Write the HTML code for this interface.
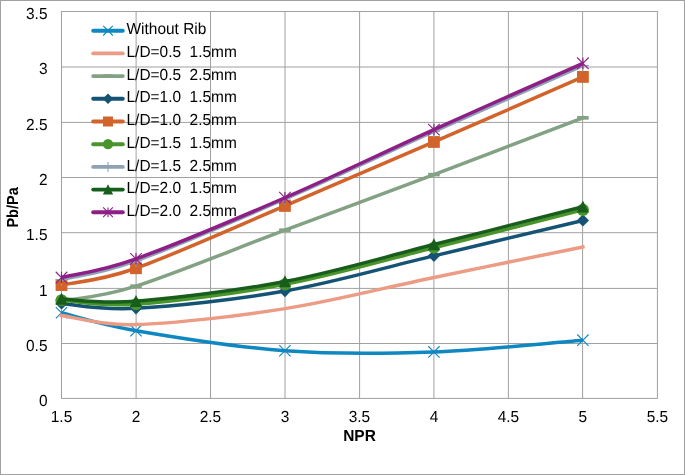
<!DOCTYPE html>
<html><head><meta charset="utf-8"><style>
html,body{margin:0;padding:0;background:#fff;}
body{width:685px;height:475px;overflow:hidden;}
svg{display:block;will-change:transform;}
text{font-family:"Liberation Sans",sans-serif;text-rendering:geometricPrecision;}
</style></head><body>
<svg width="685" height="475" viewBox="0 0 685 475">
<rect x="0" y="0" width="685" height="475" fill="#fff"/>
<rect x="0.5" y="0.5" width="684" height="474" fill="none" stroke="#A0A0A0" stroke-width="1"/>

<line x1="61.5" x2="657.4" y1="343.50" y2="343.50" stroke="#A0A0A0" stroke-width="1"/>
<line x1="61.5" x2="657.4" y1="288.40" y2="288.40" stroke="#A0A0A0" stroke-width="1"/>
<line x1="61.5" x2="657.4" y1="232.70" y2="232.70" stroke="#A0A0A0" stroke-width="1"/>
<line x1="61.5" x2="657.4" y1="177.50" y2="177.50" stroke="#A0A0A0" stroke-width="1"/>
<line x1="61.5" x2="657.4" y1="122.40" y2="122.40" stroke="#A0A0A0" stroke-width="1"/>
<line x1="61.5" x2="657.4" y1="67.00" y2="67.00" stroke="#A0A0A0" stroke-width="1"/>
<line x1="136.10" x2="136.10" y1="11.5" y2="398.4" stroke="#A0A0A0" stroke-width="1"/>
<line x1="210.50" x2="210.50" y1="11.5" y2="398.4" stroke="#A0A0A0" stroke-width="1"/>
<line x1="285.00" x2="285.00" y1="11.5" y2="398.4" stroke="#A0A0A0" stroke-width="1"/>
<line x1="359.60" x2="359.60" y1="11.5" y2="398.4" stroke="#A0A0A0" stroke-width="1"/>
<line x1="433.90" x2="433.90" y1="11.5" y2="398.4" stroke="#A0A0A0" stroke-width="1"/>
<line x1="508.40" x2="508.40" y1="11.5" y2="398.4" stroke="#A0A0A0" stroke-width="1"/>
<line x1="582.60" x2="582.60" y1="11.5" y2="398.4" stroke="#A0A0A0" stroke-width="1"/>
<rect x="61.5" y="11.5" width="595.90" height="386.90" fill="none" stroke="#A0A0A0" stroke-width="1"/>
<text transform="translate(47.5,406.3) scale(0.965,1)" font-size="16" text-anchor="end" fill="#000">0</text>
<text transform="translate(47.5,351.3) scale(0.965,1)" font-size="16" text-anchor="end" fill="#000">0.5</text>
<text transform="translate(47.5,296.3) scale(0.965,1)" font-size="16" text-anchor="end" fill="#000">1</text>
<text transform="translate(47.5,240.3) scale(0.965,1)" font-size="16" text-anchor="end" fill="#000">1.5</text>
<text transform="translate(47.5,185.3) scale(0.965,1)" font-size="16" text-anchor="end" fill="#000">2</text>
<text transform="translate(47.5,130.3) scale(0.965,1)" font-size="16" text-anchor="end" fill="#000">2.5</text>
<text transform="translate(47.5,74.3) scale(0.965,1)" font-size="16" text-anchor="end" fill="#000">3</text>
<text transform="translate(47.5,19.3) scale(0.965,1)" font-size="16" text-anchor="end" fill="#000">3.5</text>
<text transform="translate(61.50,422.3) scale(0.965,1)" font-size="16" text-anchor="middle" fill="#000">1.5</text>
<text transform="translate(135.99,422.3) scale(0.965,1)" font-size="16" text-anchor="middle" fill="#000">2</text>
<text transform="translate(210.47,422.3) scale(0.965,1)" font-size="16" text-anchor="middle" fill="#000">2.5</text>
<text transform="translate(284.95,422.3) scale(0.965,1)" font-size="16" text-anchor="middle" fill="#000">3</text>
<text transform="translate(359.44,422.3) scale(0.965,1)" font-size="16" text-anchor="middle" fill="#000">3.5</text>
<text transform="translate(433.93,422.3) scale(0.965,1)" font-size="16" text-anchor="middle" fill="#000">4</text>
<text transform="translate(508.41,422.3) scale(0.965,1)" font-size="16" text-anchor="middle" fill="#000">4.5</text>
<text transform="translate(582.89,422.3) scale(0.965,1)" font-size="16" text-anchor="middle" fill="#000">5</text>
<text transform="translate(657.38,422.3) scale(0.965,1)" font-size="16" text-anchor="middle" fill="#000">5.5</text>
<text transform="translate(359.5,440.8) scale(0.965,1)" font-size="16" font-weight="bold" text-anchor="middle" fill="#000">NPR</text>
<text transform="translate(17.9,207.4) rotate(-90) scale(0.906,1)" x="0" y="0" font-size="16" font-weight="bold" text-anchor="middle" fill="#000">Pb/Pa</text>
<path d="M61.50,312.73 C73.91,315.72 98.74,324.33 135.99,330.66 C173.23,336.99 235.30,347.15 284.95,350.69 C334.61,354.23 384.27,353.66 433.93,351.91 C483.58,350.16 558.07,342.13 582.89,340.18" stroke="#0F87C1" stroke-width="3.5" fill="none" stroke-linecap="butt" stroke-linejoin="round"/>
<path d="M55.84,307.07L67.16,318.39M55.84,318.39L67.16,307.07" stroke="#0F87C1" stroke-width="1.1" fill="none"/>
<path d="M130.32,325.00L141.65,336.32M130.32,336.32L141.65,325.00" stroke="#0F87C1" stroke-width="1.1" fill="none"/>
<path d="M279.29,345.03L290.62,356.35M279.29,356.35L290.62,345.03" stroke="#0F87C1" stroke-width="1.1" fill="none"/>
<path d="M428.26,346.24L439.59,357.57M428.26,357.57L439.59,346.24" stroke="#0F87C1" stroke-width="1.1" fill="none"/>
<path d="M577.23,334.51L588.56,345.84M577.23,345.84L588.56,334.51" stroke="#0F87C1" stroke-width="1.1" fill="none"/>
<path d="M61.50,315.50 C73.91,317.01 98.74,325.72 135.99,324.57 C173.23,323.43 235.30,316.49 284.95,308.64 C334.61,300.78 384.27,287.70 433.93,277.43 C483.58,267.15 558.07,252.07 582.89,246.99" stroke="#EC9B84" stroke-width="3.5" fill="none" stroke-linecap="square" stroke-linejoin="round"/>
<path d="M61.50,301.11 C73.91,298.62 98.74,297.99 135.99,286.17 C173.23,274.35 235.30,248.76 284.95,230.17 C334.61,211.58 384.27,193.34 433.93,174.61 C483.58,155.89 558.07,127.30 582.89,117.84" stroke="#82A283" stroke-width="3.5" fill="none" stroke-linecap="square" stroke-linejoin="round"/>
<rect x="55.72" y="299.31" width="11.56" height="3.60" fill="#82A283"/>
<rect x="130.20" y="284.37" width="11.56" height="3.60" fill="#82A283"/>
<rect x="279.17" y="228.37" width="11.56" height="3.60" fill="#82A283"/>
<rect x="428.14" y="172.81" width="11.56" height="3.60" fill="#82A283"/>
<rect x="577.11" y="116.04" width="11.56" height="3.60" fill="#82A283"/>
<path d="M61.50,303.43 C73.91,304.25 98.74,310.37 135.99,308.30 C173.23,306.24 235.30,299.78 284.95,291.04 C334.61,282.30 384.27,267.61 433.93,255.85 C483.58,244.08 558.07,226.33 582.89,220.43" stroke="#155375" stroke-width="3.5" fill="none" stroke-linecap="butt" stroke-linejoin="round"/>
<path d="M61.50,297.30L67.64,303.43L61.50,309.57L55.36,303.43Z" fill="#155375"/>
<path d="M135.99,302.17L142.12,308.30L135.99,314.44L129.85,308.30Z" fill="#155375"/>
<path d="M284.95,284.90L291.09,291.04L284.95,297.18L278.82,291.04Z" fill="#155375"/>
<path d="M433.93,249.71L440.06,255.85L433.93,261.98L427.79,255.85Z" fill="#155375"/>
<path d="M582.89,214.30L589.03,220.43L582.89,226.57L576.76,220.43Z" fill="#155375"/>
<path d="M61.50,285.06 C73.91,282.26 98.74,281.43 135.99,268.24 C173.23,255.05 235.30,226.98 284.95,205.93 C334.61,184.89 384.27,163.47 433.93,141.97 C483.58,120.46 558.07,87.74 582.89,76.89" stroke="#D2632A" stroke-width="3.5" fill="none" stroke-linecap="butt" stroke-linejoin="round"/>
<rect x="55.60" y="279.16" width="11.80" height="11.80" fill="#D2632A"/>
<rect x="130.09" y="262.34" width="11.80" height="11.80" fill="#D2632A"/>
<rect x="279.06" y="200.03" width="11.80" height="11.80" fill="#D2632A"/>
<rect x="428.03" y="136.07" width="11.80" height="11.80" fill="#D2632A"/>
<rect x="577.00" y="70.99" width="11.80" height="11.80" fill="#D2632A"/>
<path d="M61.50,300.23 C73.91,300.89 98.74,306.85 135.99,304.21 C173.23,301.57 235.30,293.81 284.95,284.40 C334.61,274.99 384.27,260.18 433.93,247.77 C483.58,235.35 558.07,216.23 582.89,209.92" stroke="#4A952B" stroke-width="3.5" fill="none" stroke-linecap="butt" stroke-linejoin="round"/>
<circle cx="61.50" cy="300.23" r="6.08" fill="#4A952B"/>
<circle cx="135.99" cy="304.21" r="6.08" fill="#4A952B"/>
<circle cx="284.95" cy="284.40" r="6.08" fill="#4A952B"/>
<circle cx="433.93" cy="247.77" r="6.08" fill="#4A952B"/>
<circle cx="582.89" cy="209.92" r="6.08" fill="#4A952B"/>
<path d="M61.50,279.64 C73.91,276.50 98.74,274.27 135.99,260.83 C173.23,247.38 235.30,220.52 284.95,198.96 C334.61,177.40 384.27,153.68 433.93,131.45 C483.58,109.23 558.07,76.58 582.89,65.60" stroke="#8DA3B5" stroke-width="3.5" fill="none" stroke-linecap="butt" stroke-linejoin="round"/>
<path d="M55.60,279.64L67.40,279.64M61.50,273.74L61.50,285.54" stroke="#8DA3B5" stroke-width="1.1" fill="none"/>
<path d="M130.09,260.83L141.89,260.83M135.99,254.93L135.99,266.73" stroke="#8DA3B5" stroke-width="1.1" fill="none"/>
<path d="M279.06,198.96L290.85,198.96M284.95,193.06L284.95,204.86" stroke="#8DA3B5" stroke-width="1.1" fill="none"/>
<path d="M428.03,131.45L439.82,131.45M433.93,125.55L433.93,137.35" stroke="#8DA3B5" stroke-width="1.1" fill="none"/>
<path d="M577.00,65.60L588.79,65.60M582.89,59.70L582.89,71.50" stroke="#8DA3B5" stroke-width="1.1" fill="none"/>
<path d="M61.50,298.90 C73.91,299.28 98.74,304.12 135.99,301.22 C173.23,298.33 235.30,290.97 284.95,281.52 C334.61,272.08 384.27,257.03 433.93,244.56 C483.58,232.09 558.07,213.02 582.89,206.71" stroke="#175D1C" stroke-width="3.5" fill="none" stroke-linecap="butt" stroke-linejoin="round"/>
<path d="M61.50,292.64L67.58,304.68L55.42,304.68Z" fill="#175D1C"/>
<path d="M135.99,294.97L142.06,307.00L129.91,307.00Z" fill="#175D1C"/>
<path d="M284.95,275.27L291.03,287.30L278.88,287.30Z" fill="#175D1C"/>
<path d="M433.93,238.30L440.00,250.34L427.85,250.34Z" fill="#175D1C"/>
<path d="M582.89,200.45L588.97,212.49L576.82,212.49Z" fill="#175D1C"/>
<path d="M61.50,277.54 C73.91,274.42 98.74,272.13 135.99,258.83 C173.23,245.54 235.30,219.29 284.95,197.74 C334.61,176.20 384.27,151.98 433.93,129.57 C483.58,107.16 558.07,74.33 582.89,63.28" stroke="#8D1F86" stroke-width="3.5" fill="none" stroke-linecap="butt" stroke-linejoin="round"/>
<path d="M55.72,271.76L67.28,283.32M55.72,283.32L67.28,271.76M61.50,271.76L61.50,283.32" stroke="#8D1F86" stroke-width="1.1" fill="none"/>
<path d="M130.20,253.05L141.77,264.62M130.20,264.62L141.77,253.05M135.99,253.05L135.99,264.62" stroke="#8D1F86" stroke-width="1.1" fill="none"/>
<path d="M279.17,191.96L290.74,203.53M279.17,203.53L290.74,191.96M284.95,191.96L284.95,203.53" stroke="#8D1F86" stroke-width="1.1" fill="none"/>
<path d="M428.14,123.79L439.71,135.35M428.14,135.35L439.71,123.79M433.93,123.79L433.93,135.35" stroke="#8D1F86" stroke-width="1.1" fill="none"/>
<path d="M577.11,57.50L588.68,69.06M577.11,69.06L588.68,57.50M582.89,57.50L582.89,69.06" stroke="#8D1F86" stroke-width="1.1" fill="none"/>
<line x1="93.2" x2="122.8" y1="30.70" y2="30.70" stroke="#0F87C1" stroke-width="3.9" stroke-linecap="round"/>
<path d="M103.20,25.90L112.80,35.50M103.20,35.50L112.80,25.90" stroke="#0F87C1" stroke-width="1.1" fill="none"/>
<text transform="translate(126.5,34.30) scale(0.965,1)" font-size="16" fill="#000" xml:space="preserve">Without Rib</text>
<line x1="93.2" x2="122.8" y1="53.40" y2="53.40" stroke="#EC9B84" stroke-width="3.9" stroke-linecap="round"/>
<text transform="translate(126.5,57.00) scale(0.965,1)" font-size="16" fill="#000" xml:space="preserve">L/D=0.5  1.5mm</text>
<line x1="93.2" x2="122.8" y1="76.10" y2="76.10" stroke="#82A283" stroke-width="3.9" stroke-linecap="round"/>
<rect x="103.10" y="74.30" width="9.80" height="3.60" fill="#82A283"/>
<text transform="translate(126.5,79.70) scale(0.965,1)" font-size="16" fill="#000" xml:space="preserve">L/D=0.5  2.5mm</text>
<line x1="93.2" x2="122.8" y1="98.80" y2="98.80" stroke="#155375" stroke-width="3.9" stroke-linecap="round"/>
<path d="M108.00,93.60L113.20,98.80L108.00,104.00L102.80,98.80Z" fill="#155375"/>
<text transform="translate(126.5,102.40) scale(0.965,1)" font-size="16" fill="#000" xml:space="preserve">L/D=1.0  1.5mm</text>
<line x1="93.2" x2="122.8" y1="121.50" y2="121.50" stroke="#D2632A" stroke-width="3.9" stroke-linecap="round"/>
<rect x="103.00" y="116.50" width="10.00" height="10.00" fill="#D2632A"/>
<text transform="translate(126.5,125.10) scale(0.965,1)" font-size="16" fill="#000" xml:space="preserve">L/D=1.0  2.5mm</text>
<line x1="93.2" x2="122.8" y1="144.20" y2="144.20" stroke="#4A952B" stroke-width="3.9" stroke-linecap="round"/>
<circle cx="108.00" cy="144.20" r="5.15" fill="#4A952B"/>
<text transform="translate(126.5,147.80) scale(0.965,1)" font-size="16" fill="#000" xml:space="preserve">L/D=1.5  1.5mm</text>
<line x1="93.2" x2="122.8" y1="166.90" y2="166.90" stroke="#8DA3B5" stroke-width="3.9" stroke-linecap="round"/>
<path d="M103.00,166.90L113.00,166.90M108.00,161.90L108.00,171.90" stroke="#8DA3B5" stroke-width="1.1" fill="none"/>
<text transform="translate(126.5,170.50) scale(0.965,1)" font-size="16" fill="#000" xml:space="preserve">L/D=1.5  2.5mm</text>
<line x1="93.2" x2="122.8" y1="189.60" y2="189.60" stroke="#175D1C" stroke-width="3.9" stroke-linecap="round"/>
<path d="M108.00,184.30L113.15,194.50L102.85,194.50Z" fill="#175D1C"/>
<text transform="translate(126.5,193.20) scale(0.965,1)" font-size="16" fill="#000" xml:space="preserve">L/D=2.0  1.5mm</text>
<line x1="93.2" x2="122.8" y1="212.30" y2="212.30" stroke="#8D1F86" stroke-width="3.9" stroke-linecap="round"/>
<path d="M103.10,207.40L112.90,217.20M103.10,217.20L112.90,207.40M108.00,207.40L108.00,217.20" stroke="#8D1F86" stroke-width="1.1" fill="none"/>
<text transform="translate(126.5,215.90) scale(0.965,1)" font-size="16" fill="#000" xml:space="preserve">L/D=2.0  2.5mm</text>
</svg></body></html>
